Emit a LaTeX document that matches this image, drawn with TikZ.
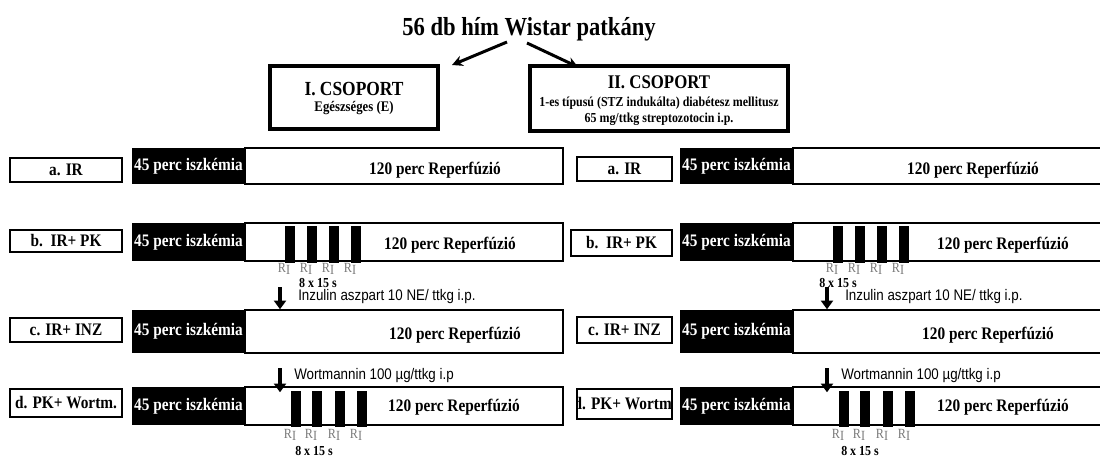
\documentclass[tikz,border=0pt]{standalone}
\usepackage{fontspec}
\setmainfont{Liberation Serif}[FakeStretch=0.87]
\newfontfamily\arialfont{Liberation Sans}[FakeStretch=0.87]
\usepackage{tikz}
\usetikzlibrary{arrows.meta,calc}
\usepackage{xcolor}
\definecolor{rigray}{HTML}{7A7A7A}
\newcommand\pxs{0.75pt}

\begin{document}
\begin{tikzpicture}[x=\pxs, y=-\pxs,
    grpbox/.style={draw, line width=3pt, inner sep=0pt},
    labelbox/.style={draw, line width=1.5pt, inner sep=0pt, font=\bfseries\fontsize{13.2}{15}\selectfont},
    ischbox/.style={fill=black, text=white, inner sep=0pt, minimum width=84.75pt, font=\bfseries\fontsize{13.2}{15}\selectfont},
    reperfbox/.style={draw, fill=white, line width=1.1pt, inner sep=0pt},
    bartext/.style={inner sep=0pt, font=\bfseries\fontsize{13.2}{15}\selectfont},
    pulsebar/.style={fill=black, inner sep=0pt, minimum width=7.5pt, minimum height=27.5pt},
    rilabel/.style={text=rigray, inner sep=0pt, font=\fontsize{10.5}{12}\selectfont},
    cycletext/.style={inner sep=0pt, font=\bfseries\fontsize{10.3}{12}\selectfont},
    dosetext/.style={anchor=west, inner sep=0pt, font=\arialfont\fontsize{11.5}{13}\selectfont},
    dosearrow/.style={-{Triangle[width=9pt, length=6.5pt]}, line width=3pt},
    splitarrow/.style={-{Stealth[width=8pt, length=8pt]}, line width=2.25pt}]
    \clip (0,0) rectangle (1100,457);

    % Title and groups
    \node[inner sep=0pt, font=\bfseries\fontsize{19.5}{22}\selectfont] (title) at (529,29) {56 db hím Wistar patkány};
    \node[grpbox, minimum width=126pt, minimum height=47.25pt] (grpI) at (354,97.5) {};
    \node[inner sep=0pt, font=\bfseries\fontsize{15}{17}\selectfont] (grpIname) at (354,89) {I. CSOPORT};
    \node[inner sep=0pt, font=\bfseries\fontsize{11}{13}\selectfont] (grpIdesc) at (354,108) {Egészséges (E)};
    \node[grpbox, minimum width=193.5pt, minimum height=48.75pt] (grpII) at (659,98.5) {};
    \node[inner sep=0pt, font=\bfseries\fontsize{14.5}{17}\selectfont] (grpIIname) at (659,82) {II. CSOPORT};
    \node[inner sep=0pt, font=\bfseries\fontsize{10.3}{12}\selectfont] (grpIIdesc) at (659,103) {1-es típusú (STZ indukálta) diabétesz mellitusz};
    \node[inner sep=0pt, font=\bfseries\fontsize{10.3}{12}\selectfont] (grpIIdose) at (659,119) {65 mg/ttkg streptozotocin i.p.};

    \coordinate (splitL) at (507,42);
    \coordinate (splitR) at (527,43);
    \draw[splitarrow] (splitL) -- ($(grpI.north east)+(12,1)$);
    \draw[splitarrow] (splitR) -- ($(grpII.north west)+(50,3)$);

    % Protocol bars: ischemia + reperfusion
    \foreach \r/\yc/\h in {a/166/27, b/242/28.5, c/331.5/32.25, d/406/28.5}{
        \node[reperfbox, minimum width=238.5pt, minimum height=\h pt] (repL\r) at (404,\yc) {};
        \node[ischbox, minimum height=\h pt] (ischL\r) at (188.5,\yc) {45 perc iszkémia};
        \node[reperfbox, minimum width=237.75pt, minimum height=\h pt] (repR\r) at (951.5,\yc) {};
        \node[ischbox, minimum height=\h pt] (ischR\r) at (736.5,\yc) {45 perc iszkémia};
    }
    \node[bartext] (repLatext) at (435,170) {120 perc Reperfúzió};
    \node[bartext] (repLbtext) at (450,245) {120 perc Reperfúzió};
    \node[bartext] (repLctext) at (455,335) {120 perc Reperfúzió};
    \node[bartext] (repLdtext) at (454,407) {120 perc Reperfúzió};
    \node[bartext] (repRatext) at (973,170) {120 perc Reperfúzió};
    \node[bartext] (repRbtext) at (1003,245) {120 perc Reperfúzió};
    \node[bartext] (repRctext) at (988,335) {120 perc Reperfúzió};
    \node[bartext] (repRdtext) at (1003,407) {120 perc Reperfúzió};

    % Group labels
    \node[labelbox, minimum width=84pt, minimum height=18pt] (labLa) at (66,170) {a. IR};
    \node[labelbox, minimum width=84pt, minimum height=16.5pt] (labLb) at (66,241) {b.\ \ IR+ PK};
    \node[labelbox, minimum width=84pt, minimum height=18pt] (labLc) at (66,330) {c. IR+ INZ};
    \node[labelbox, minimum width=84pt, minimum height=21pt] (labLd) at (66,403) {d. PK+ Wortm.};
    \node[labelbox, minimum width=71.25pt, minimum height=18pt] (labRa) at (624.5,169) {a. IR};
    \node[labelbox, minimum width=75.75pt, minimum height=19.5pt] (labRb) at (621.5,243) {b.\ \ IR+ PK};
    \node[labelbox, minimum width=71.25pt, minimum height=19.5pt] (labRc) at (624.5,330) {c. IR+ INZ};
    \begin{scope}
        \clip (578,391) rectangle (671,417);
        \node[bartext, anchor=east] (labRdtext) at (672,404) {d. PK+ Wortm};
    \end{scope}
    \node[labelbox, minimum width=71.25pt, minimum height=22.5pt] (labRd) at (624.5,404) {};

    % Preconditioning cycles
    \foreach \px [count=\i] in {285,307,329,351}{
        \node[pulsebar] (pulseLb\i) at (\px+5,244.5) {};
        \node[rilabel] (riLb\i) at (\px-1,269) {R\raisebox{-2pt}{I}};
        \node[pulsebar] (pulseRb\i) at (\px+553,244.5) {};
        \node[rilabel] (riRb\i) at (\px+547,269) {R\raisebox{-2pt}{I}};
    }
    \foreach \px [count=\i] in {291,312,335,357}{
        \node[pulsebar] (pulseLd\i) at (\px+5,409) {};
        \node[rilabel] (riLd\i) at (\px-1,435) {R\raisebox{-2pt}{I}};
        \node[pulsebar] (pulseRd\i) at (\px+553,409) {};
        \node[rilabel] (riRd\i) at (\px+547,435) {R\raisebox{-2pt}{I}};
    }
    \node[cycletext] (cycLb) at (318,283) {8 x 15 s};
    \node[cycletext] (cycRb) at (838,283) {8 x 15 s};
    \node[cycletext] (cycLd) at (314,451) {8 x 15 s};
    \node[cycletext] (cycRd) at (860,451) {8 x 15 s};

    % Drug administration
    \coordinate (inzL) at (280,287);
    \coordinate (inzR) at (827,287);
    \coordinate (wortL) at (280,368);
    \coordinate (wortR) at (827,368);
    \draw[dosearrow] (inzL) -- (inzL |- repLc.north);
    \draw[dosearrow] (inzR) -- (inzR |- repRc.north);
    \draw[dosearrow] (wortL) -- ($(wortL |- repLd.north)+(0,6)$);
    \draw[dosearrow] (wortR) -- ($(wortR |- repRd.north)+(0,6)$);
    \node[dosetext] (inzLtext) at (298,297) {Inzulin aszpart 10 NE/ ttkg i.p.};
    \node[dosetext] (inzRtext) at (845,297) {Inzulin aszpart 10 NE/ ttkg i.p.};
    \node[dosetext] (wortLtext) at (294,376) {Wortmannin 100 µg/ttkg i.p};
    \node[dosetext] (wortRtext) at (841,376) {Wortmannin 100 µg/ttkg i.p};
\end{tikzpicture}
\end{document}
